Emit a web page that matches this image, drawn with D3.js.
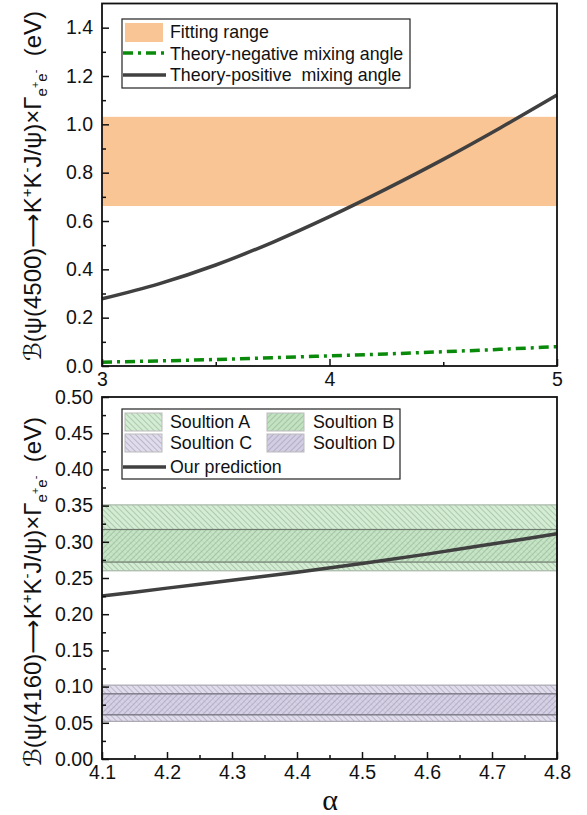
<!DOCTYPE html>
<html>
<head>
<meta charset="utf-8">
<script src="https://cdn.jsdelivr.net/npm/d3@7/dist/d3.min.js"></script>
<style>
  body { margin: 0; background: #fff; }
  text { font-family: "Liberation Sans", Arial, sans-serif; fill: #111; }
</style>
</head>
<body>
<script>
// ---- data ----
var alphaTop = [3, 3.25, 3.5, 3.75, 4, 4.25, 4.5, 4.75, 5];
var positiveAngle = [0.278, 0.34, 0.418, 0.512, 0.618, 0.733, 0.855, 0.985, 1.121];
var negativeAngle = [0.016, 0.021, 0.027, 0.034, 0.042, 0.050, 0.059, 0.069, 0.080];
var fittingRange = [0.662, 1.031];

var alphaBottom = [4.1, 4.2, 4.3, 4.4, 4.5, 4.6, 4.7, 4.8];
var prediction = [0.225, 0.236, 0.247, 0.258, 0.270, 0.283, 0.297, 0.311];
var solutionNames = ["Soultion A", "Soultion B", "Soultion C", "Soultion D"];
var solutionLow = [0.26, 0.272, 0.052, 0.061];
var solutionHigh = [0.351, 0.317, 0.102, 0.090];

var topYTicks = [0.0, 0.2, 0.4, 0.6, 0.8, 1.0, 1.2, 1.4];
var topXTicks = [3, 4, 5];
var botYTicks = d3.range(0, 0.501, 0.05);
var botXTicks = d3.range(4.1, 4.801, 0.1);

var width = 587, height = 815;
var left = 102, right = 557;

var svg = d3.select("body").append("svg")
    .attr("width", width).attr("height", height);

var defs = svg.append("defs");
function hatch(id, angle, color) {
    var p = defs.append("pattern")
        .attr("id", id)
        .attr("patternUnits", "userSpaceOnUse")
        .attr("width", 4).attr("height", 4)
        .attr("patternTransform", "rotate(" + angle + ")");
    p.append("line").attr("x1", 0).attr("y1", 0).attr("x2", 0).attr("y2", 4)
        .attr("stroke", color).attr("stroke-width", 1);
}
hatch("hA", -45, "#86a886");
hatch("hB", 45, "#86a886");
hatch("hC", -45, "#958fa8");
hatch("hD", 45, "#958fa8");
var solFill = ["#d3ecd3", "#c2e2c2", "#e0dcec", "#d3cde3"];
var solEdge = ["#a9b8a9", "#6e7a6e", "#a8a6b0", "#6c6a76"];

// ---- top panel ----
var x1 = d3.scaleLinear().domain([3, 5]).range([left, right]);
var y1 = d3.scaleLinear().domain([0, 1.5]).range([366, 3.5]);

var g1 = svg.append("g");
g1.append("rect")
    .attr("x", left).attr("width", right - left)
    .attr("y", y1(fittingRange[1]))
    .attr("height", y1(fittingRange[0]) - y1(fittingRange[1]))
    .attr("fill", "#f9c594");

var line1 = d3.line()
    .x(function(d, i){ return x1(alphaTop[i]); })
    .y(function(d){ return y1(d); })
    .curve(d3.curveMonotoneX);

g1.append("path").datum(negativeAngle)
    .attr("d", line1).attr("fill", "none")
    .attr("stroke", "#0a8a0a").attr("stroke-width", 3.5)
    .attr("stroke-dasharray", "10,5,3,5");
g1.append("path").datum(positiveAngle)
    .attr("d", line1).attr("fill", "none")
    .attr("stroke", "#404040").attr("stroke-width", 3.5);

// ---- bottom panel ----
var x2 = d3.scaleLinear().domain([4.1, 4.8]).range([left, right]);
var y2 = d3.scaleLinear().domain([0, 0.5]).range([759, 397]);

var g2 = svg.append("g");
solutionNames.forEach(function(n, i) {
    var r = { x: left, w: right - left, y: y2(solutionHigh[i]), h: y2(solutionLow[i]) - y2(solutionHigh[i]) };
    g2.append("rect").attr("x", r.x).attr("y", r.y).attr("width", r.w).attr("height", r.h)
        .attr("fill", solFill[i]).attr("fill-opacity", i % 2 ? 0.75 : 1);
    g2.append("rect").attr("x", r.x).attr("y", r.y).attr("width", r.w).attr("height", r.h)
        .attr("fill", "url(#h" + "ABCD"[i] + ")")
        .attr("stroke", solEdge[i]).attr("stroke-width", 1.2);
});

var line2 = d3.line()
    .x(function(d, i){ return x2(alphaBottom[i]); })
    .y(function(d){ return y2(d); })
    .curve(d3.curveMonotoneX);
g2.append("path").datum(prediction)
    .attr("d", line2).attr("fill", "none")
    .attr("stroke", "#404040").attr("stroke-width", 3.5);

// ---- axes ----
function frame(g, y0, y1p) {
    g.append("rect").attr("x", left).attr("y", y1p)
        .attr("width", right - left).attr("height", y0 - y1p)
        .attr("fill", "none").attr("stroke", "#111").attr("stroke-width", 1.8);
}
function axes(g, xs, ys, xt, yt, xfmt, yfmt, xminor, yminor, yBase) {
    g.append("g").attr("transform", "translate(" + left + ",0)")
        .call(d3.axisLeft(ys).tickValues(yt).tickFormat(d3.format(yfmt)).tickSize(-7).tickPadding(9));
    g.append("g").attr("transform", "translate(" + left + ",0)")
        .call(d3.axisLeft(ys).tickValues(yminor).tickFormat("").tickSize(-4));
    g.append("g").attr("transform", "translate(0," + yBase + ")")
        .call(d3.axisBottom(xs).tickValues(xt).tickFormat(d3.format(xfmt)).tickSize(-7).tickPadding(6));
    g.append("g").attr("transform", "translate(0," + yBase + ")")
        .call(d3.axisBottom(xs).tickValues(xminor).tickFormat("").tickSize(-4));
    g.selectAll(".domain").remove();
    g.selectAll(".tick line").attr("stroke", "#111").attr("stroke-width", 1.5);
    g.selectAll(".tick text").attr("font-size", 19.5).attr("fill", "#111")
        .style("font-family", "'Liberation Sans', Arial, sans-serif");
}
frame(g1, 366, 3.5);
axes(g1, x1, y1, topXTicks, topYTicks, "d", ".1f", [3.5, 4.5],
    [0.1, 0.3, 0.5, 0.7, 0.9, 1.1, 1.3], 366);
frame(g2, 759, 397);
axes(g2, x2, y2, botXTicks, botYTicks, ".1f", ".2f",
    d3.range(4.15, 4.8, 0.1), d3.range(0.025, 0.5, 0.05), 759);

// ---- axis titles ----
function yTitle(cy, state) {
    var t = svg.append("text")
        .attr("transform", "translate(41," + cy + ") rotate(-90)")
        .attr("text-anchor", "middle").attr("font-size", 24);
    t.append("tspan").style("font-family", "'DejaVu Sans'").text("\u212C");
    t.append("tspan").text("(\u03C8(" + state + ")");
    t.append("tspan").style("font-family", "'DejaVu Sans'").text("\u27F6");
    t.append("tspan").text("K");
    t.append("tspan").attr("dy", -9).attr("font-size", 15).text("+");
    t.append("tspan").attr("dy", 9).text("K");
    t.append("tspan").attr("dy", -9).attr("font-size", 15).text("-");
    t.append("tspan").attr("dy", 9).text("J/\u03C8)\u00D7\u0393");
    t.append("tspan").attr("dy", 6).attr("font-size", 15).text("e");
    t.append("tspan").attr("dy", -8).attr("font-size", 11).text("+");
    t.append("tspan").attr("dy", 8).attr("font-size", 15).text("e");
    t.append("tspan").attr("dy", -8).attr("font-size", 11).text("-");
    t.append("tspan").attr("dy", 2).text("\u00A0 (eV)");
}
yTitle(186, "4500");
yTitle(592, "4160");

svg.append("text").attr("x", 330).attr("y", 810)
    .attr("text-anchor", "middle").attr("font-size", 30)
    .style("font-family", "'Liberation Serif', serif").text("\u03B1");

// ---- legends ----
var lg1 = svg.append("g");
lg1.append("rect").attr("x", 122).attr("y", 19).attr("width", 288).attr("height", 69)
    .attr("fill", "#fff").attr("stroke", "#222").attr("stroke-width", 1.2);
lg1.append("rect").attr("x", 125).attr("y", 23).attr("width", 38).attr("height", 19).attr("fill", "#f9c594");
lg1.append("line").attr("x1", 123).attr("x2", 166).attr("y1", 53).attr("y2", 53)
    .attr("stroke", "#0a8a0a").attr("stroke-width", 3.5).attr("stroke-dasharray", "10,5,3,5");
lg1.append("line").attr("x1", 123).attr("x2", 166).attr("y1", 75).attr("y2", 75)
    .attr("stroke", "#404040").attr("stroke-width", 3.5);
var topLabels = ["Fitting range", "Theory-negative mixing angle", "Theory-positive  mixing angle"];
topLabels.forEach(function(s, i) {
    lg1.append("text").attr("x", 170).attr("y", 38 + i * 21.5).attr("font-size", 17.8)
        .style("white-space", "pre").text(s);
});

var lg2 = svg.append("g");
lg2.append("rect").attr("x", 122).attr("y", 409).attr("width", 278).attr("height", 70)
    .attr("fill", "#fff").attr("stroke", "#222").attr("stroke-width", 1.2);
var swX = [125, 267, 125, 267], swY = [413, 413, 434, 434], txX = [170, 313, 170, 313];
solutionNames.forEach(function(n, i) {
    lg2.append("rect").attr("x", swX[i]).attr("y", swY[i]).attr("width", 37).attr("height", 18)
        .attr("fill", solFill[i]);
    lg2.append("rect").attr("x", swX[i]).attr("y", swY[i]).attr("width", 37).attr("height", 18)
        .attr("fill", "url(#h" + "ABCD"[i] + ")").attr("stroke", "#bbb").attr("stroke-width", 1);
    lg2.append("text").attr("x", txX[i]).attr("y", swY[i] + 15).attr("font-size", 17.8).text(n);
});
lg2.append("line").attr("x1", 123).attr("x2", 166).attr("y1", 467).attr("y2", 467)
    .attr("stroke", "#404040").attr("stroke-width", 3.5);
lg2.append("text").attr("x", 170).attr("y", 473).attr("font-size", 17.8).text("Our prediction");
</script>
</body>
</html>
